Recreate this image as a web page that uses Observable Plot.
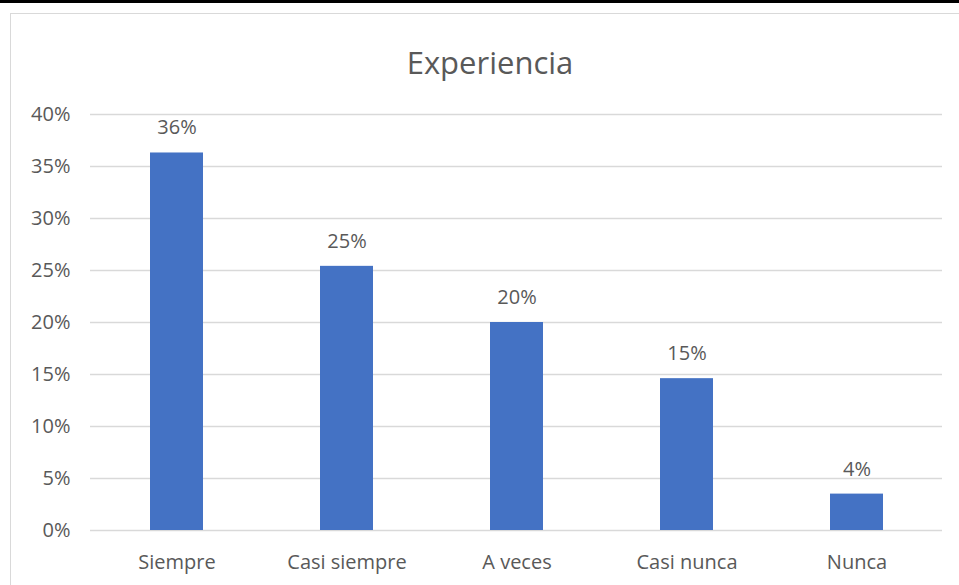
<!DOCTYPE html>
<html>
<head>
<meta charset="utf-8">
<script src="https://cdn.jsdelivr.net/npm/d3@7"></script>
<script src="https://cdn.jsdelivr.net/npm/@observablehq/plot@0.6"></script>
<style>
  html, body { margin: 0; padding: 0; background: #fff; }
  #wrap { position: relative; width: 959px; height: 585px; overflow: hidden; font-family: "Open Sans", "Noto Sans", sans-serif; }
  #topline { position: absolute; left: 0; top: 0; width: 959px; height: 3px; background: #000; }
  #frame { position: absolute; left: 10px; top: 13px; width: 980px; height: 600px; border: 1px solid #d9d9d9; box-sizing: border-box; }
  #title { position: absolute; left: 290px; width: 400px; top: 41px; text-align: center; font-size: 31px; color: #595959; line-height: 42px; }
  #chart { position: absolute; left: 0; top: 0; }
</style>
</head>
<body>
<div id="wrap">
  <div id="topline"></div>
  <div id="frame"></div>
  <div id="chart"></div>
  <div id="title">Experiencia</div>
</div>
<script>
const categories = ["Siempre", "Casi siempre", "A veces", "Casi nunca", "Nunca"];
const values = [0.363, 0.254, 0.200, 0.146, 0.035];
const valueLabels = ["36%", "25%", "20%", "15%", "4%"];
const yTicks = [0, 0.05, 0.10, 0.15, 0.20, 0.25, 0.30, 0.35, 0.40];

const data = categories.map((c, i) => ({category: c, value: values[i], label: valueLabels[i]}));

const chart = Plot.plot({
  width: 959,
  height: 585,
  marginLeft: 90,
  marginRight: 17,
  marginTop: 114,
  marginBottom: 55,
  style: {fontFamily: "'Open Sans', 'Noto Sans', sans-serif", fontSize: "20px", color: "#595959", background: "transparent"},
  x: {domain: categories, paddingInner: 0.69, paddingOuter: 0.345, align: 0.5, label: null, tickSize: 0, tickPadding: 24},
  y: {domain: [0, 0.4], ticks: yTicks, tickFormat: d => Math.round(d * 100) + "%", label: null, tickSize: 0, tickPadding: 20},
  marks: [
    Plot.gridY(yTicks, {stroke: "#d9d9d9", strokeOpacity: 1, strokeWidth: 1.3}),
    Plot.barY(data, {x: "category", y: "value", fill: "#4472C4"}),
    Plot.text(data, {x: "category", y: "value", text: "label", dy: -25, fill: "#595959", fontSize: 20})
  ]
});
document.getElementById("chart").appendChild(chart);
</script>
</body>
</html>
